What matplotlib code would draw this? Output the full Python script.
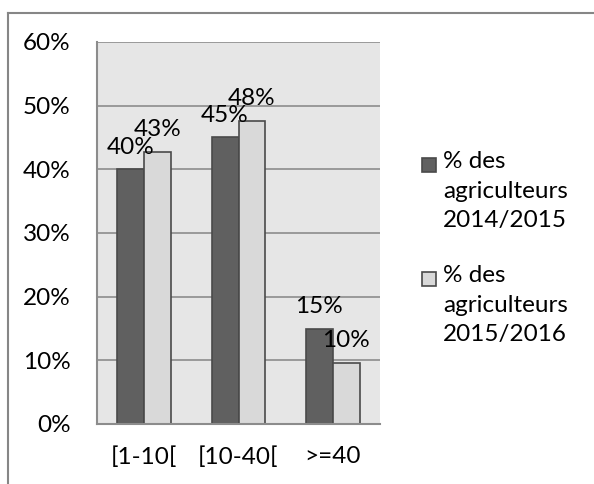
import matplotlib
matplotlib.use('Agg')
import matplotlib.pyplot as plt
from matplotlib.patches import Rectangle
from matplotlib.lines import Line2D
from matplotlib.ticker import FuncFormatter

plt.rcParams['font.family'] = ['Lato', 'DejaVu Sans']

categories = ['[1-10[', '[10-40[', '>=40']
share_2014 = [0.400, 0.450, 0.150]
share_2015 = [0.428, 0.476, 0.096]
series_names = ['% des\nagriculteurs\n2014/2015', '% des\nagriculteurs\n2015/2016']

dark = '#606060'
light = '#d9d9d9'
edge = '#4a4a4a'
grid = '#8c8c8c'
fs = 17.5

fig = plt.figure(figsize=(5.94, 4.84), dpi=100)
W, H = 594, 484
ax = fig.add_axes([97 / W, 1 - 424 / H, 283 / W, 382 / H])
ax.set_facecolor('#e6e6e6')

x = range(len(categories))
w = 0.286
b1 = ax.bar([i - w / 2 for i in x], share_2014, w, color=dark, edgecolor=edge, linewidth=1.2, zorder=3)
b2 = ax.bar([i + w / 2 for i in x], share_2015, w, color=light, edgecolor=edge, linewidth=1.2, zorder=3)

for bars, vals in ((b1, share_2014), (b2, share_2015)):
    for bar, v in zip(bars, vals):
        ax.annotate('{:.0f}%'.format(v * 100), (bar.get_x() + bar.get_width() / 2, v),
                    xytext=(0, 8.5), textcoords='offset points',
                    ha='center', va='bottom', fontsize=fs, color='black', zorder=4)

ax.set_xlim(-0.5, 2.5)
ax.set_ylim(0, 0.6)
ax.set_yticks([0, 0.1, 0.2, 0.3, 0.4, 0.5, 0.6])
ax.yaxis.set_major_formatter(FuncFormatter(lambda v, p: '{:.0f}%'.format(v * 100)))
ax.set_xticks(list(x))
ax.set_xticklabels(categories)
ax.tick_params(axis='both', length=0, labelsize=fs)
ax.tick_params(axis='y', pad=19)
ax.tick_params(axis='x', pad=16)
ax.yaxis.grid(True, color=grid, linewidth=1.2, zorder=0)
ax.set_axisbelow(True)
for s in ('top', 'right'):
    ax.spines[s].set_visible(False)
for s in ('left', 'bottom'):
    ax.spines[s].set_color(grid)
    ax.spines[s].set_linewidth(1.5)
ax.spines['bottom'].set_zorder(5)

# legend drawn by hand so the swatch sits next to the first line
for name, col, ytop in ((series_names[0], dark, 151), (series_names[1], light, 265)):
    fig.patches.append(Rectangle((422 / W, 1 - (ytop + 21) / H), 14 / W, 14 / H,
                                 transform=fig.transFigure, facecolor=col,
                                 edgecolor=edge, linewidth=1.2))
    fig.text(443 / W, 1 - ytop / H, name, fontsize=fs, va='top', ha='left', linespacing=1.5)

# outer chart frame
fig.add_artist(Line2D([8 / W, 1], [1 - 12.5 / H] * 2, transform=fig.transFigure, color='#868686', linewidth=1.5))
fig.add_artist(Line2D([8 / W] * 2, [0, 1 - 12.5 / H], transform=fig.transFigure, color='#868686', linewidth=1.5))

fig.savefig('out.png', dpi=100)
